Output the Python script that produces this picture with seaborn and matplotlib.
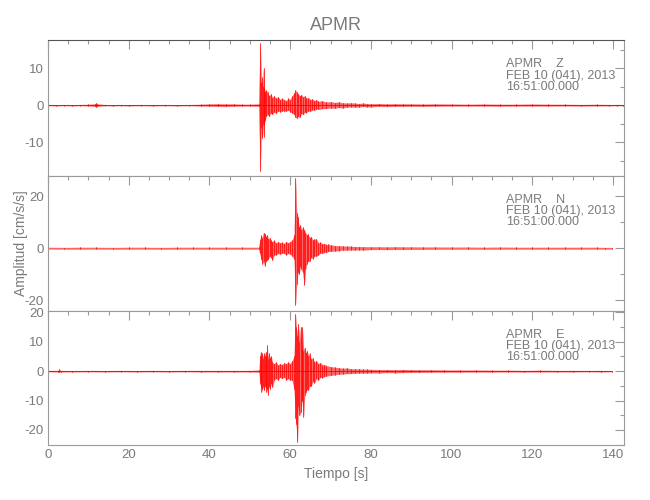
import pandas as pd
import numpy as np
import seaborn as sns
import matplotlib
matplotlib.use("Agg")
import matplotlib.pyplot as plt
from matplotlib.ticker import MultipleLocator

# Peak values (upper / lower envelope of the trace)
z_time = [0, 2, 4, 6, 8, 10, 11.6, 11.9, 12.2, 14, 16, 18,
          20, 23, 26, 29, 32, 35, 38, 40, 42, 44, 46, 48,
          50, 52.2, 52.6, 52.8, 53.0, 53.2, 53.4, 53.6, 53.8, 54.0, 54.4, 54.8,
          55.2, 55.6, 56.0, 56.5, 57.0, 57.5, 58.0, 58.5, 59.0, 59.5, 60.0, 60.5,
          61.0, 61.3, 61.6, 62.0, 62.4, 62.8, 63.2, 63.6, 64.0, 64.5, 65.0, 65.5,
          66.0, 66.5, 67, 68, 69, 70, 71, 72, 73, 74, 75, 76,
          77, 78, 79, 80, 82, 84, 86, 88, 90, 93, 96, 100,
          104, 108, 112, 116, 120, 124, 128, 132, 136, 139, 141, 142.5]
z_upper = [0.15, 0.1, 0.15, 0.1, 0.15, 0.2, 0.3, 0.6, 0.3, 0.15, 0.1, 0.15,
           0.1, 0.15, 0.1, 0.15, 0.1, 0.15, 0.2, 0.3, 0.35, 0.3, 0.3, 0.2,
           0.2, 0.3, 16.8, 6.0, 7.5, 5.0, 10.0, 4.5, 3.5, 4.0, 3.5, 2.5,
           3.0, 2.0, 2.5, 1.8, 2.2, 1.5, 1.8, 1.5, 1.2, 1.8, 1.5, 2.5,
           3.2, 4.1, 3.5, 3.0, 2.5, 2.8, 2.2, 2.5, 1.8, 2.0, 1.5, 1.6,
           1.2, 1.4, 1.0, 1.1, 0.8, 0.9, 0.7, 0.8, 0.6, 0.5, 0.6, 0.5,
           0.4, 0.5, 0.4, 0.35, 0.4, 0.3, 0.35, 0.3, 0.3, 0.25, 0.3, 0.25,
           0.2, 0.25, 0.2, 0.2, 0.25, 0.2, 0.2, 0.15, 0.2, 0.15, 0.15, 0.1]
z_lower = [-0.1, -0.15, -0.1, -0.15, -0.1, -0.15, -0.3, -0.5, -0.3, -0.1, -0.15, -0.1,
           -0.15, -0.1, -0.15, -0.1, -0.15, -0.1, -0.2, -0.25, -0.3, -0.35, -0.25, -0.2,
           -0.2, -0.3, -17.8, -6.0, -9.0, -5.0, -8.5, -5.0, -4.0, -3.0, -2.5, -3.0,
           -2.0, -2.5, -1.8, -2.2, -1.5, -1.8, -1.5, -1.5, -1.6, -1.2, -1.8, -2.0,
           -2.5, -3.2, -3.5, -3.0, -3.2, -2.2, -2.5, -1.8, -2.0, -1.5, -1.6, -1.2,
           -1.3, -1.0, -1.1, -0.9, -0.9, -0.7, -0.8, -0.6, -0.7, -0.5, -0.4, -0.5,
           -0.45, -0.35, -0.4, -0.4, -0.3, -0.35, -0.3, -0.3, -0.25, -0.3, -0.25, -0.2,
           -0.2, -0.2, -0.25, -0.2, -0.2, -0.2, -0.15, -0.2, -0.15, -0.15, -0.1, -0.1]

n_time = [0, 4, 8, 12, 16, 20, 24, 28, 32, 36, 40, 44,
          48, 52.2, 52.5, 52.8, 53.1, 53.4, 53.7, 54.0, 54.3, 54.6, 54.9, 55.2,
          55.6, 56.0, 56.5, 57.0, 57.5, 58.0, 58.5, 59.0, 59.5, 60.0, 60.5, 61.0,
          61.3, 61.6, 61.9, 62.2, 62.5, 62.8, 63.1, 63.5, 63.8, 64.1, 64.4, 64.8,
          65.2, 65.6, 66.0, 66.5, 67.0, 67.5, 68.0, 68.5, 69.0, 69.5, 70, 71,
          72, 73, 74, 75, 76, 77, 78, 80, 82, 84, 86, 88,
          90, 93, 96, 100, 104, 108, 112, 116, 120, 124, 128, 132,
          136, 138, 139.8]
n_upper = [0.3, 0.25, 0.3, 0.3, 0.25, 0.3, 0.3, 0.25, 0.3, 0.3, 0.3, 0.3,
           0.3, 0.3, 3.0, 5.0, 4.0, 6.0, 5.5, 4.5, 5.0, 3.5, 4.0, 3.0,
           2.5, 3.0, 2.0, 2.5, 2.0, 2.2, 1.8, 2.5, 2.0, 2.5, 3.0, 5.0,
           26.9, 13.6, 12.0, 8.0, 9.0, 7.0, 8.0, 7.0, 6.0, 5.0, 5.5, 4.0,
           4.5, 3.0, 3.5, 3.4, 2.0, 2.2, 1.6, 1.8, 1.4, 1.5, 1.2, 1.0,
           0.9, 0.8, 0.7, 0.7, 0.6, 0.6, 0.55, 0.5, 0.5, 0.45, 0.5, 0.45,
           0.45, 0.4, 0.4, 0.35, 0.35, 0.3, 0.35, 0.3, 0.3, 0.3, 0.3, 0.3,
           0.3, 0.25, 0.25]
n_lower = [-0.25, -0.3, -0.3, -0.25, -0.3, -0.3, -0.25, -0.3, -0.3, -0.25, -0.3, -0.3,
           -0.3, -0.3, -2.0, -4.0, -6.0, -5.0, -6.7, -5.0, -4.5, -4.0, -3.0, -3.5,
           -4.5, -2.5, -2.5, -2.0, -2.2, -1.8, -2.0, -2.5, -2.0, -2.2, -3.0, -4.0,
           -21.7, -13.7, -9.0, -10.0, -7.0, -8.0, -9.0, -14.0, -8.0, -6.0, -5.0, -5.0,
           -3.5, -4.0, -3.0, -3.0, -2.5, -1.8, -2.0, -1.5, -1.5, -1.2, -1.2, -1.0,
           -0.9, -0.7, -0.7, -0.6, -0.6, -0.55, -0.6, -0.5, -0.45, -0.5, -0.45, -0.45,
           -0.4, -0.4, -0.35, -0.35, -0.3, -0.35, -0.3, -0.3, -0.3, -0.3, -0.3, -0.3,
           -0.25, -0.3, -0.25]

e_time = [0, 2.5, 2.8, 3.1, 6, 10, 14, 18, 22, 26, 30, 34,
          38, 42, 46, 50, 52.3, 52.5, 52.7, 52.9, 53.1, 53.3, 53.5, 53.7,
          53.9, 54.1, 54.3, 54.5, 54.7, 55.0, 55.3, 55.6, 56.0, 56.5, 57.0, 57.5,
          58.0, 58.5, 59.0, 59.5, 60.0, 60.5, 61.0, 61.3, 61.5, 61.8, 62.0, 62.3,
          62.6, 62.9, 63.0, 63.3, 63.6, 63.9, 64.2, 64.5, 64.8, 65.2, 65.6, 66.0,
          66.5, 67.0, 67.5, 68.0, 68.5, 69, 70, 71, 72, 73, 74, 75,
          76, 77, 78, 79, 80, 82, 84, 86, 88, 90, 92, 95,
          98, 102, 106, 110, 114, 118, 122, 126, 130, 134, 137, 139.8]
e_upper = [0.2, 0.2, 0.6, 0.2, 0.15, 0.2, 0.15, 0.2, 0.15, 0.2, 0.15, 0.2,
           0.2, 0.2, 0.2, 0.2, 0.3, 5.0, 6.5, 5.0, 6.0, 4.0, 6.0, 5.0,
           6.5, 5.0, 8.8, 4.0, 6.0, 4.5, 5.0, 3.0, 2.5, 3.0, 2.0, 2.5,
           2.2, 2.8, 2.5, 3.0, 2.5, 3.5, 5.0, 19.3, 15.0, 12.0, 16.0, 10.0,
           15.0, 8.0, 15.0, 7.0, 8.0, 6.0, 7.0, 5.0, 6.0, 4.0, 4.5, 3.0,
           3.5, 2.5, 2.8, 2.0, 2.2, 1.8, 1.5, 1.3, 1.1, 0.9, 1.0, 0.8,
           0.7, 0.7, 0.6, 0.6, 0.55, 0.5, 0.5, 0.45, 0.5, 0.45, 0.4, 0.4,
           0.35, 0.3, 0.3, 0.25, 0.25, 0.2, 0.25, 0.2, 0.2, 0.2, 0.2, 0.15]
e_lower = [-0.15, -0.2, -0.3, -0.2, -0.2, -0.15, -0.2, -0.15, -0.2, -0.15, -0.2, -0.15,
           -0.2, -0.2, -0.2, -0.2, -0.3, -4.0, -5.0, -7.0, -6.0, -5.0, -6.5, -5.0,
           -5.5, -7.0, -6.0, -8.1, -5.0, -6.0, -4.0, -5.5, -3.0, -2.5, -3.0, -2.0,
           -2.5, -2.0, -3.0, -2.5, -3.0, -3.0, -6.0, -16.0, -18.0, -24.0, -12.0, -15.0,
           -14.0, -9.0, -10.0, -15.5, -8.0, -7.0, -6.0, -6.5, -5.0, -5.0, -3.5, -4.0,
           -2.5, -3.0, -2.0, -2.2, -1.8, -1.6, -1.4, -1.2, -1.0, -0.9, -0.8, -0.8,
           -0.7, -0.6, -0.6, -0.6, -0.5, -0.55, -0.45, -0.5, -0.45, -0.4, -0.4, -0.35,
           -0.3, -0.3, -0.25, -0.25, -0.2, -0.25, -0.2, -0.2, -0.2, -0.15, -0.2, -0.15]

station = "APMR"
components = ["Z", "N", "E"]
date_label = "FEB 10 (041), 2013"
time_label = "16:51:00.000"
y_limits = [(-19.0, 17.6), (-24.0, 28.0), (-25.1, 20.6)]
y_major = [10, 20, 10]
y_minor = [5, 10, 5]
x_max = 142.6

GRAY = "#7a7a7a"
SPINE = "#9a9a9a"

sns.set_theme(style="white")
plt.rcParams["font.family"] = ["Liberation Sans", "DejaVu Sans"]
plt.rcParams["axes.unicode_minus"] = False


def peak_frame(t, up, lo):
    # one vertical stroke per read peak (lower -> upper)
    rows = []
    for k, (ti, u, l) in enumerate(zip(t, up, lo)):
        rows.append((k, ti, l))
        rows.append((k, ti, u))
    return pd.DataFrame(rows, columns=["sample", "t", "amp"])


series = [
    (z_time, z_upper, z_lower),
    (n_time, n_upper, n_lower),
    (e_time, e_upper, e_lower),
]

fig = plt.figure(figsize=(6.5, 5), dpi=100)
left = 48 / 650
width = 575.5 / 650
tops = [40, 175.5, 310.5]
bottoms = [175.5, 310.5, 445]

axes = []
for i, (t, up, lo) in enumerate(series):
    ax = fig.add_axes([left, 1 - bottoms[i] / 500, width, (bottoms[i] - tops[i]) / 500])
    # envelope band, then the individual oscillation peaks on top
    ax.fill_between(t, lo, up, color="#ff0000", alpha=0.6, linewidth=0.3,
                    edgecolor="#ff4040")
    if components[i] != "N":
        # darker baseline seen on the Z and E traces
        ax.plot([t[0], t[-1]], [0, 0], color="#9a1010", linewidth=0.5, zorder=1.5)
    sns.lineplot(data=peak_frame(t, up, lo), x="t", y="amp", units="sample",
                 sort=False, estimator=None, color="#ff0000", linewidth=0.5, ax=ax)
    ax.set_xlim(0, x_max)
    ax.set_ylim(*y_limits[i])
    ax.xaxis.set_major_locator(MultipleLocator(20))
    ax.xaxis.set_minor_locator(MultipleLocator(5))
    ax.yaxis.set_major_locator(MultipleLocator(y_major[i]))
    ax.yaxis.set_minor_locator(MultipleLocator(y_minor[i]))
    ax.tick_params(which="both", direction="in", top=True, right=True,
                   colors=SPINE, labelcolor=GRAY, labelsize=9.5)
    ax.tick_params(which="major", length=6.5, width=0.8)
    ax.tick_params(which="minor", length=3.2, width=0.8)
    ax.tick_params(axis="y", pad=3)
    ax.tick_params(axis="x", pad=3)
    for s in ax.spines.values():
        s.set_color(SPINE)
        s.set_linewidth(0.8)
    ax.set_xlabel("")
    ax.set_ylabel("")
    if i < 2:
        ax.tick_params(axis="x", labelbottom=False)
    ax.text(0.796, 0.865, f"{station}    {components[i]}\n{date_label}\n{time_label}",
            transform=ax.transAxes, ha="left", va="top", fontsize=9,
            color=GRAY, linespacing=0.92)
    axes.append(ax)

axes[0].spines["top"].set_color("#555555")
axes[0].set_title(station, fontsize=13, color=GRAY, pad=7)
axes[1].set_ylabel("Amplitud [cm/s/s]", fontsize=10, color=GRAY)
axes[1].yaxis.set_label_coords(-0.035, 0.5)
axes[2].set_xlabel("Tiempo [s]", fontsize=10, color=GRAY, labelpad=4)

fig.savefig("out.png", dpi=100)
